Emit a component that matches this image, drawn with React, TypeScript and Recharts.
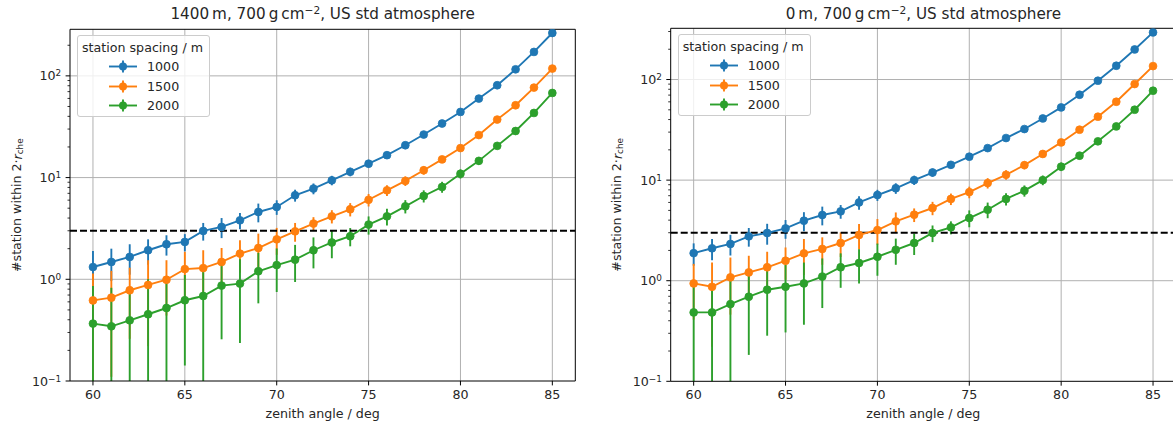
import React from "react";
import {
  ComposedChart, Line, ErrorBar, XAxis, YAxis, CartesianGrid, ReferenceLine,
} from "recharts";

const ANGLES = [60, 61, 62, 63, 64, 65, 66, 67, 68, 69, 70, 71, 72, 73, 74, 75, 76, 77, 78, 79, 80, 81, 82, 83, 84, 85];
const SPACINGS = ["1000", "1500", "2000"];
const COLORS = ["#1f77b4", "#ff7f0e", "#2ca02c"];
const X_TICKS = [60, 65, 70, 75, 80, 85];
const Y_MAJOR = [0.1, 1, 10, 100];
const Y_EXP = ["\u22121", "0", "1", "2"];
const MINOR_STEPS = [2, 3, 4, 5, 6, 7, 8, 9];
const THRESHOLD = 3;
const X_DOMAIN = [58.75, 86.25];
const Y_MIN = 0.1;

// 1400 m
const N1000_1400 = [1.32, 1.48, 1.66, 1.93, 2.21, 2.33, 2.99, 3.27, 3.8, 4.59, 5.14, 6.7, 7.8, 9.4, 11.4, 13.7, 16.6, 20.8, 26.5, 34.0, 44.2, 59.8, 80.9, 116, 172, 264];
const N1500_1400 = [0.62, 0.66, 0.78, 0.88, 0.99, 1.26, 1.29, 1.48, 1.79, 2.03, 2.47, 2.96, 3.53, 4.16, 4.88, 6.05, 7.5, 9.27, 11.8, 15.1, 19.5, 26.2, 37.2, 51.4, 76.7, 118];
const N2000_1400 = [0.367, 0.345, 0.395, 0.453, 0.522, 0.622, 0.685, 0.867, 0.907, 1.2, 1.38, 1.56, 1.93, 2.3, 2.65, 3.45, 4.16, 5.22, 6.59, 8.09, 10.9, 14.6, 20.5, 28.7, 43.2, 67.9];
const E1000_1400 = [0.58, 0.52, 0.55, 0.54, 0.5, 0.45, 0.59, 0.73, 0.69, 0.96, 0.84, 0.9, 0.95, 1.0, 1.1, 1.2, 1.3, 1.4, 1.6, 1.8, 2.0, 2.3, 2.6, 3.0, 3.6, 4.4];
const E1500_1400 = [0.52, 0.55, 0.52, 0.66, 0.55, 0.6, 0.64, 0.55, 0.63, 0.78, 0.73, 0.62, 0.55, 0.62, 0.73, 0.85, 0.9, 1.0, 1.1, 1.2, 1.4, 1.6, 1.9, 2.2, 2.7, 3.3];
const E2000_1400 = [0.49, 0.48, 0.45, 0.55, 0.55, 0.48, 0.62, 0.61, 0.67, 0.62, 0.63, 0.62, 0.65, 0.69, 0.54, 0.7, 0.78, 0.78, 0.9, 1.0, 1.1, 1.3, 1.5, 1.7, 2.0, 2.5];

// 0 m
const N1000_0 = [1.88, 2.1, 2.32, 2.76, 2.98, 3.31, 3.95, 4.5, 4.89, 6.0, 7.11, 8.3, 10.0, 11.9, 14.2, 17.1, 20.8, 26.2, 32.2, 41.0, 52.8, 70.6, 97.3, 137, 199, 294];
const N1500_0 = [0.94, 0.87, 1.08, 1.21, 1.36, 1.58, 1.87, 2.07, 2.37, 2.85, 3.19, 3.89, 4.53, 5.28, 6.5, 7.6, 9.35, 11.3, 14.1, 18.2, 23.7, 31.7, 42.7, 60.1, 90.2, 136];
const N2000_0 = [0.484, 0.484, 0.586, 0.693, 0.814, 0.871, 0.94, 1.1, 1.36, 1.5, 1.73, 2.03, 2.37, 2.98, 3.39, 4.2, 5.08, 6.5, 7.85, 10.0, 13.6, 17.5, 24.3, 34.2, 50.1, 77.4];
const E1000_0 = [0.47, 0.5, 0.54, 0.58, 0.7, 0.7, 0.85, 0.95, 0.76, 0.92, 0.9, 1.0, 1.05, 1.1, 1.2, 1.3, 1.5, 1.6, 1.8, 2.1, 2.4, 2.8, 3.3, 4.0, 4.8, 5.8];
const E1500_0 = [0.53, 0.65, 0.62, 0.56, 0.58, 0.56, 0.73, 0.63, 0.65, 0.81, 0.91, 0.88, 0.7, 0.8, 0.85, 1.0, 1.1, 1.2, 1.3, 1.5, 1.7, 1.9, 2.2, 2.6, 3.1, 3.8];
const E2000_0 = [0.42, 0.42, 0.52, 0.51, 0.53, 0.565, 0.575, 0.565, 0.51, 0.56, 0.61, 0.59, 0.57, 0.56, 0.5, 0.8, 0.9, 0.9, 1.0, 1.1, 1.3, 1.5, 1.7, 2.0, 2.4, 3.0];

const FONT = "'DejaVu Sans', sans-serif";
const INK = "#262626";
const GRID = "#b0b0b0";

function buildRows(values: number[][], errors: number[][]) {
  return ANGLES.map((angle, i) => {
    const row: Record<string, any> = { angle };
    values.forEach((vals, s) => {
      const v = vals[i];
      const e = errors[s][i];
      row[`s${s}`] = v;
      // lower whisker stops at the axis floor (log scale)
      row[`e${s}`] = [Math.min(e, v - Y_MIN), e];
    });
    return row;
  });
}

const LogTick = (props: any) => {
  const { x, y, payload } = props;
  const v = payload.value;
  const idx = Y_MAJOR.findIndex((m) => Math.abs(m - v) < 1e-9);
  if (idx < 0) {
    return <line x1={x - 2.5} x2={x} y1={y} y2={y} stroke="#000" strokeWidth={0.8} />;
  }
  return (
    <g>
      <line x1={x - 4.4} x2={x} y1={y} y2={y} stroke="#000" strokeWidth={1} />
      <text x={x - 8.8} y={y + 4.6} textAnchor="end" fill={INK} fontSize={12.65} fontFamily={FONT}>
        10<tspan dy={-4} fontSize={8.9}>{Y_EXP[idx]}</tspan>
      </text>
    </g>
  );
};

const YLabel = (props: any) => {
  const vb = props.viewBox || {};
  const cx = (vb.x ?? 0) + 17;
  const cy = (vb.y ?? 0) + (vb.height ?? 0) / 2;
  return (
    <text x={cx} y={cy} transform={`rotate(-90, ${cx}, ${cy})`} textAnchor="middle"
      dominantBaseline="central" fill={INK} fontSize={12.65} fontFamily={FONT}>
      #station within 2·<tspan fontStyle="italic">r</tspan>
      <tspan fontSize={8.9} dy={3}>che</tspan>
    </text>
  );
};

const LegendBox = ({ left, top }: { left: number; top: number }) => (
  <div style={{
    position: "absolute", left, top, width: 131, height: 80,
    border: "1px solid #cccccc", borderRadius: 3, background: "rgba(255,255,255,0.8)",
    fontFamily: FONT, fontSize: 12.65, color: INK,
  }}>
    <div style={{ position: "absolute", left: 4, top: 3.5, whiteSpace: "nowrap", lineHeight: "15px" }}>
      station spacing / m
    </div>
    {SPACINGS.map((name, i) => (
      <div key={name} style={{ position: "absolute", left: 31, top: 23 + i * 19.6, height: 15, display: "flex", alignItems: "center" }}>
        <svg width={29} height={15} style={{ display: "block" }}>
          <line x1={0} x2={28} y1={7.5} y2={7.5} stroke={COLORS[i]} strokeWidth={1.9} />
          <line x1={14} x2={14} y1={1.5} y2={13.5} stroke={COLORS[i]} strokeWidth={1.9} />
          <circle cx={14} cy={7.5} r={4} fill={COLORS[i]} />
        </svg>
        <span style={{ marginLeft: 9, lineHeight: "15px" }}>{name}</span>
      </div>
    ))}
  </div>
);

interface PanelProps {
  prefix: string;
  values: number[][];
  errors: number[][];
  yMax: number;
  left: number;
  plotLeft: number;
  plotTop: number;
  plotBottom: number;
}

const CHART_W = 590;
const CHART_H = 426;

function Panel({ prefix, values, errors, yMax, left, plotLeft, plotTop, plotBottom }: PanelProps) {
  const rows = buildRows(values, errors);
  const minor = Y_MAJOR.flatMap((d) => MINOR_STEPS.map((m) => +(d * m).toPrecision(3)));
  const yTicks = [...Y_MAJOR, ...minor].filter((t) => t <= yMax).sort((a, b) => a - b);
  const plotRight = 505.3;
  const marginRight = CHART_W - plotLeft - plotRight;

  return (
    <div style={{ position: "absolute", left, top: 0, width: CHART_W, height: CHART_H }}>
      <div style={{
        position: "absolute", left: plotLeft, width: plotRight, top: 6, textAlign: "center",
        fontFamily: FONT, fontSize: 15.2, lineHeight: "17.7px", color: INK, whiteSpace: "nowrap",
      }}>
        {prefix}, 700{"\u2009"}g{"\u2009"}cm
        <span style={{ fontSize: "0.7em", position: "relative", top: "-0.5em" }}>{"\u2212"}2</span>
        , US std atmosphere
      </div>
      <ComposedChart width={CHART_W} height={CHART_H} data={rows}
        margin={{ top: plotTop, right: marginRight, bottom: 0, left: 0 }}>
        <CartesianGrid stroke={GRID} strokeWidth={1} horizontalValues={[1, 10, 100]} verticalValues={X_TICKS} />
        <XAxis dataKey="angle" type="number" domain={X_DOMAIN} ticks={X_TICKS} interval={0}
          allowDataOverflow height={CHART_H - plotBottom} tickSize={4.4} tickMargin={4.4}
          tickLine={{ stroke: "#000" }} axisLine={{ stroke: "#000" }}
          tick={{ fill: INK, fontSize: 12.65, fontFamily: FONT }}
          label={{ value: "zenith angle / deg", position: "insideBottom", offset: 8.3, fill: INK, fontSize: 12.65, fontFamily: FONT }} />
        <YAxis type="number" scale="log" domain={[Y_MIN, yMax]} allowDataOverflow ticks={yTicks}
          interval={0} width={plotLeft} tickLine={false} tickSize={0} tickMargin={0}
          tick={<LogTick />} axisLine={{ stroke: "#000" }} label={<YLabel />} />
        {values.map((_, s) => (
          <Line key={`err${s}`} dataKey={`s${s}`} stroke="none" dot={false} activeDot={false}
            legendType="none" isAnimationActive={false}>
            <ErrorBar dataKey={`e${s}`} width={0} strokeWidth={1.9} stroke={COLORS[s]} direction="y" isAnimationActive={false} />
          </Line>
        ))}
        <ReferenceLine y={THRESHOLD} stroke="#000" strokeWidth={1.9} strokeDasharray="7 3" />
        {values.map((_, s) => (
          <Line key={`line${s}`} dataKey={`s${s}`} name={SPACINGS[s]} type="linear" stroke={COLORS[s]}
            strokeWidth={1.9} dot={{ r: 3.9, fill: COLORS[s], stroke: COLORS[s], strokeWidth: 0.8 }}
            activeDot={false} isAnimationActive={false} />
        ))}
        <ReferenceLine y={yMax} stroke="#000" strokeWidth={1} />
        <ReferenceLine x={X_DOMAIN[1]} stroke="#000" strokeWidth={1} />
      </ComposedChart>
      <LegendBox left={plotLeft + 7} top={plotTop + 5.9} />
    </div>
  );
}

export default function App() {
  return (
    <div style={{ position: "absolute", left: 0, top: 0, width: 1173, height: 426, overflow: "hidden", background: "#fff" }}>
      <Panel prefix={"1400\u2009m"} values={[N1000_1400, N1500_1400, N2000_1400]}
        errors={[E1000_1400, E1500_1400, E2000_1400]} yMax={287}
        left={0} plotLeft={70} plotTop={29.3} plotBottom={381} />
      <Panel prefix={"0\u2009m"} values={[N1000_0, N1500_0, N2000_0]}
        errors={[E1000_0, E1500_0, E2000_0]} yMax={323}
        left={600} plotLeft={70.7} plotTop={28.3} plotBottom={381.3} />
    </div>
  );
}
